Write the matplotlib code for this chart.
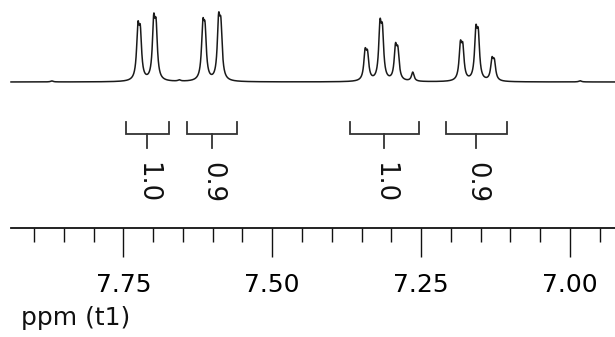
import numpy as np
import matplotlib
matplotlib.use("Agg")
import matplotlib.pyplot as plt

# ---------------- data ----------------
ppm_limits = (7.9386, 6.9244)

peak_ppm = [7.8700, 7.7255, 7.7215, 7.6990, 7.6950, 7.6560,
            7.6165, 7.6128, 7.5900, 7.5862,
            7.3440, 7.3400, 7.3190, 7.3150, 7.2930, 7.2890, 7.2640,
            7.1840, 7.1800, 7.1580, 7.1540, 7.1310, 7.1270, 6.9830]
peak_height = [1.0, 47, 42, 53, 47, 1.2,
               48, 43, 53, 47,
               26, 23, 49, 43, 30, 26, 9,
               32, 29, 44, 40, 19, 17, 1.2]
line_halfwidth = 0.0026

integral_ranges = [(7.746, 7.673), (7.643, 7.559), (7.369, 7.254), (7.209, 7.105)]
integral_values = ["1.0", "0.9", "1.0", "0.9"]

major_ticks = [7.75, 7.50, 7.25, 7.00]
major_labels = ["7.75", "7.50", "7.25", "7.00"]
minor_ticks = [7.90, 7.85, 7.80, 7.70, 7.65, 7.60, 7.55, 7.45, 7.40,
               7.35, 7.30, 7.20, 7.15, 7.10, 7.05, 6.95]
axis_title = "ppm (t1)"

# ---------------- figure ----------------
plt.rcParams["font.family"] = ["DejaVu Sans"]
W, H = 615, 337
fig = plt.figure(figsize=(W / 100, H / 100), dpi=100)
ax = fig.add_axes([11 / W, 0, (W - 11) / W, 1])
ax.set_xlim(*ppm_limits)
ax.set_ylim(-255, 82)

# spectrum as a sum of Lorentzian lines from the peak list
x = np.linspace(ppm_limits[0], ppm_limits[1], 6000)
y = np.zeros_like(x)
g2 = line_halfwidth ** 2
for p, h in zip(peak_ppm, peak_height):
    y += h * g2 / ((x - p) ** 2 + g2)
ax.plot(x, y, color="#1a1a1a", lw=1.1, clip_on=False)

# integral brackets
bracket_color = "#333333"
y_top, y_bar, y_tick, y_text = -40, -52.3, -65.7, -101
for (a, b), val in zip(integral_ranges, integral_values):
    c = (a + b) / 2
    ax.plot([a, a, b, b], [y_top, y_bar, y_bar, y_top], color=bracket_color, lw=1.3,
            solid_joinstyle="miter")
    ax.plot([c, c], [y_bar, y_tick], color=bracket_color, lw=1.3)
    ax.text(c, y_text, val, rotation=270, ha="center", va="center",
            fontsize=18.5, color="#111111")

# ppm axis
for s in ("left", "right", "top"):
    ax.spines[s].set_visible(False)
ax.spines["bottom"].set_position(("data", -146.3))
ax.spines["bottom"].set_linewidth(1.3)
ax.spines["bottom"].set_color("#111111")
ax.set_xticks(major_ticks)
ax.set_xticklabels(major_labels)
ax.set_xticks(minor_ticks, minor=True)
ax.tick_params(axis="x", which="major", direction="out", length=21, width=1.0,
               color="#111111", labelsize=18, pad=11)
ax.tick_params(axis="x", which="minor", direction="out", length=10, width=1.0,
               color="#111111")
ax.set_yticks([])
ax.patch.set_visible(False)

fig.text(21 / W, 1 - 318 / H, axis_title, ha="left", va="center", fontsize=18,
         color="#111111")

fig.savefig("out.png", dpi=100)
